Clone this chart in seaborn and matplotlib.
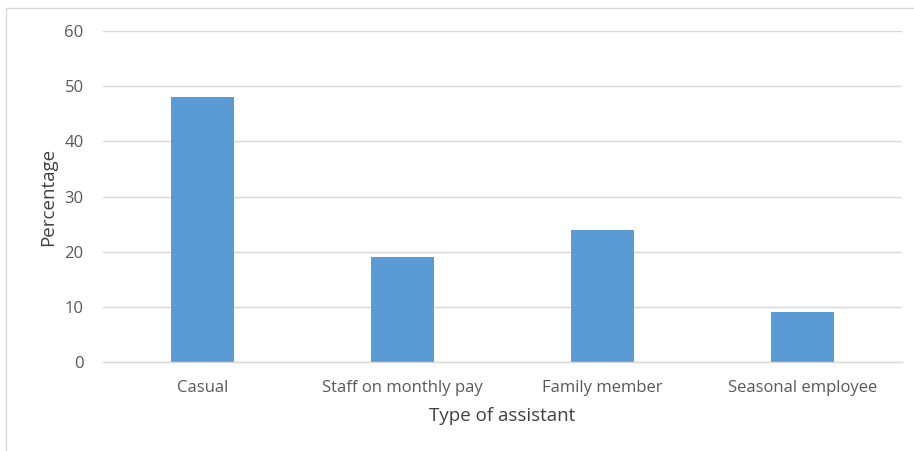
import pandas as pd
import matplotlib.pyplot as plt
import seaborn as sns
from matplotlib.lines import Line2D

# Chart data
assistant_types = ["Casual", "Staff on monthly pay", "Family member", "Seasonal employee"]
percentages = [48, 19, 24, 9]
y_ticks = [0, 10, 20, 30, 40, 50, 60]

df = pd.DataFrame({"type": assistant_types, "pct": percentages})

sns.set_style("white")
plt.rcParams['font.family'] = ['Open Sans', 'DejaVu Sans']

fig = plt.figure(figsize=(9.14, 4.51), dpi=100)
ax = fig.add_axes([0.1127, 0.1973, 0.8742, 0.734])

sns.barplot(data=df, x="type", y="pct", color="#5B9BD5", saturation=1, width=0.315,
            linewidth=0, ax=ax)

ax.set_ylim(0, 60)
ax.set_xlim(-0.5, len(assistant_types) - 0.5)
ax.set_yticks(y_ticks)
ax.yaxis.grid(True, color="#D9D9D9", linewidth=1)
ax.set_axisbelow(True)
for side in ["top", "right", "left"]:
    ax.spines[side].set_visible(False)
ax.spines["bottom"].set_color("#D9D9D9")
ax.spines["bottom"].set_linewidth(1)
ax.tick_params(axis="both", length=0, labelsize=12, labelcolor="#595959")
ax.tick_params(axis="y", pad=14)
ax.tick_params(axis="x", pad=13)

ax.set_xlabel("Type of assistant", fontsize=13.5, color="#404040", labelpad=8)
ax.set_ylabel("Percentage", fontsize=13.5, color="#404040", labelpad=5)

# light frame around the chart area (cropped at right and bottom)
fig.add_artist(Line2D([0.0066, 0.0066], [0, 0.982], transform=fig.transFigure, color="#D9D9D9", linewidth=1))
fig.add_artist(Line2D([0.0066, 1.0], [0.982, 0.982], transform=fig.transFigure, color="#D9D9D9", linewidth=1))

fig.savefig("out.png", dpi=100)
